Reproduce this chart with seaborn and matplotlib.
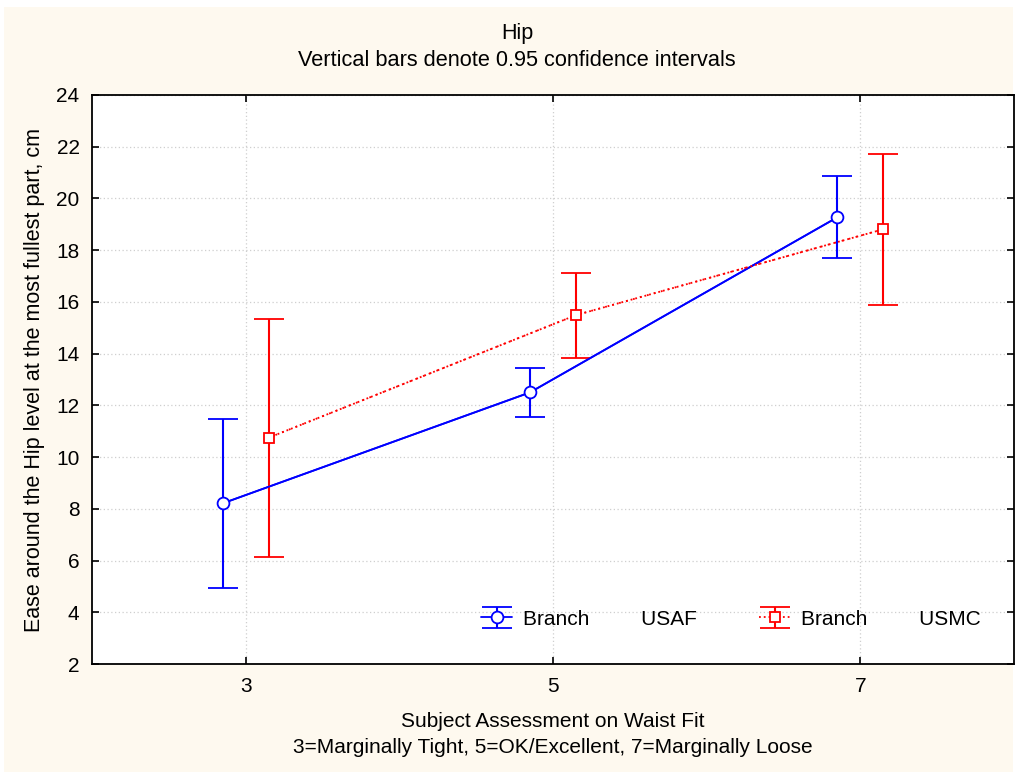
import numpy as np
import pandas as pd
import matplotlib
matplotlib.use("Agg")
import matplotlib.pyplot as plt
from matplotlib.patches import Rectangle
import seaborn as sns

# Waist-fit assessment levels and branch summaries (mean with 95% CI bounds)
fit_levels = [3, 5, 7]
branches = ["USAF", "USMC"]
usaf_mean = [8.21, 12.50, 19.27]
usaf_lower = [4.95, 11.56, 17.70]
usaf_upper = [11.46, 13.46, 20.87]
usmc_mean = [10.75, 15.49, 18.81]
usmc_lower = [6.14, 13.83, 15.89]
usmc_upper = [15.34, 17.13, 21.71]
x_ticks = [3, 5, 7]
y_ticks = list(range(2, 25, 2))

dodge = {"USAF": -0.15, "USMC": 0.15}
colors = {"USAF": "#0000FF", "USMC": "#FF0000"}
markers = {"USAF": "o", "USMC": "s"}
linestyles = {"USAF": "-", "USMC": ":"}

rows = []
for b, m, lo, hi in [("USAF", usaf_mean, usaf_lower, usaf_upper),
                     ("USMC", usmc_mean, usmc_lower, usmc_upper)]:
    for lvl, mm, l, h in zip(fit_levels, m, lo, hi):
        rows.append({"branch": b, "fit": lvl, "pos": lvl + dodge[b],
                     "mean": mm, "lower": l, "upper": h})
df = pd.DataFrame(rows)

sns.set_theme(style="white")
plt.rcParams["font.family"] = ["Liberation Sans", "DejaVu Sans"]
plt.rcParams["text.color"] = "black"
plt.rcParams["axes.labelcolor"] = "black"

cream = "#FEF9EF"
fig = plt.figure(figsize=(10.16, 7.72), dpi=100, facecolor="white")
fig.patches.append(Rectangle((4 / 1016, 0), 1009 / 1016, 1 - 7 / 772,
                             transform=fig.transFigure, facecolor=cream,
                             edgecolor="none", zorder=-10))
ax = fig.add_axes([92 / 1016, 1 - 664 / 772, (1014 - 92) / 1016, (664 - 95) / 772])
ax.set_facecolor("white")

# connecting lines drawn through seaborn
sns.lineplot(data=df, x="pos", y="mean", hue="branch", palette=colors,
             style="branch", dashes={"USAF": "", "USMC": (1, 3)},
             linewidth=1.3, legend=False, ax=ax, zorder=2)

handles = []
for b in branches:
    sub = df[df["branch"] == b]
    yerr = np.vstack([sub["mean"] - sub["lower"], sub["upper"] - sub["mean"]])
    cont = ax.errorbar(sub["pos"], sub["mean"], yerr=yerr, fmt=markers[b],
                       linestyle=linestyles[b], color=colors[b],
                       markerfacecolor="white", markeredgecolor=colors[b],
                       markersize=8.5 if b == "USAF" else 7.5,
                       markeredgewidth=1.3, elinewidth=1.5, capsize=11,
                       capthick=1.5, linewidth=1.3, zorder=3)
    handles.append(cont)

ax.set_xlim(2, 8)
ax.set_ylim(2, 24)
ax.set_xticks(x_ticks)
ax.set_yticks(y_ticks)
ax.tick_params(direction="in", length=5, width=1.2, colors="black",
               labelsize=15, top=True, right=True, left=True, bottom=True,
               labeltop=False, labelright=False, pad=9)
ax.grid(True, linestyle=(0, (1, 2)), color="#cfcfcf", linewidth=0.9)
ax.set_axisbelow(True)
for s in ax.spines.values():
    s.set_visible(True)
    s.set_color("black")
    s.set_linewidth(1.3)

ax.set_xlabel("Subject Assessment on Waist Fit\n3=Marginally Tight, 5=OK/Excellent, 7=Marginally Loose",
              fontsize=15, labelpad=12, linespacing=1.45)
ax.set_ylabel("Ease around the Hip level at the most fullest part, cm",
              fontsize=15.5, labelpad=8)

fig.text(517 / 1016, 1 - 33 / 772, "Hip", ha="center", va="center", fontsize=15.5)
fig.text(517 / 1016, 1 - 61 / 772, "Vertical bars denote 0.95 confidence intervals",
         ha="center", va="center", fontsize=15.7)

ax.legend(handles, ["Branch         USAF", "Branch         USMC"],
          loc="center", bbox_to_anchor=(0.693, 0.079), ncol=2, frameon=False,
          fontsize=15, handlelength=1.5, columnspacing=3.0, handletextpad=0.5)

fig.savefig("out.png", dpi=100, facecolor=fig.get_facecolor())
